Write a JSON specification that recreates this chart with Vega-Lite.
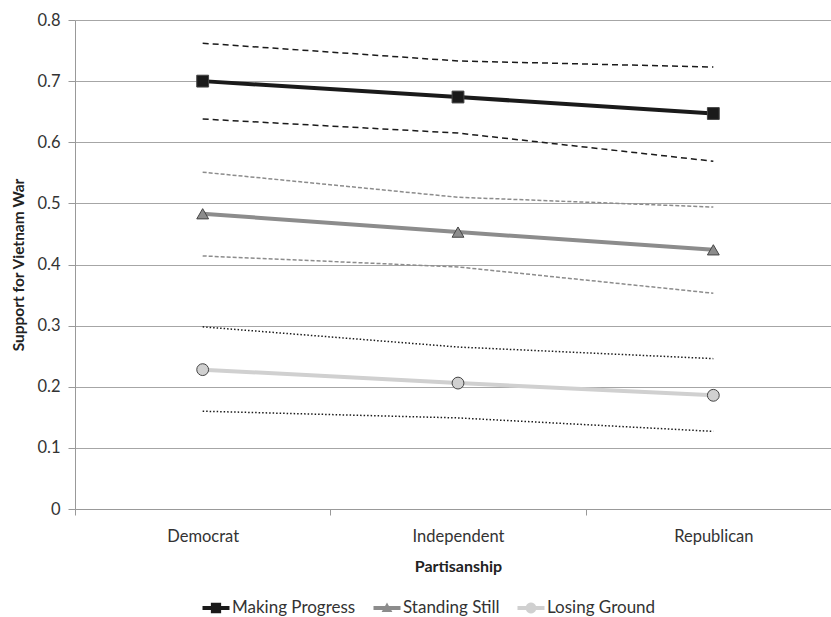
{
  "$schema": "https://vega.github.io/schema/vega-lite/v6.json",
  "autosize": {"type": "none"},
  "width": 756,
  "height": 489,
  "padding": {"left": 75, "top": 20, "right": 0, "bottom": 108},
  "background": "white",
  "config": {
    "font": "Lato",
    "view": {"stroke": null},
    "legend": {"symbolOpacity": 1}
  },
  "datasets": {
    "main": [
      {"party": "Democrat", "series": "Making Progress", "est": 0.700},
      {"party": "Independent", "series": "Making Progress", "est": 0.674},
      {"party": "Republican", "series": "Making Progress", "est": 0.647},
      {"party": "Democrat", "series": "Standing Still", "est": 0.483},
      {"party": "Independent", "series": "Standing Still", "est": 0.453},
      {"party": "Republican", "series": "Standing Still", "est": 0.424},
      {"party": "Democrat", "series": "Losing Ground", "est": 0.228},
      {"party": "Independent", "series": "Losing Ground", "est": 0.206},
      {"party": "Republican", "series": "Losing Ground", "est": 0.186}
    ],
    "ci": [
      {"party": "Democrat", "series": "Making Progress", "bound": "hi", "value": 0.762},
      {"party": "Independent", "series": "Making Progress", "bound": "hi", "value": 0.733},
      {"party": "Republican", "series": "Making Progress", "bound": "hi", "value": 0.723},
      {"party": "Democrat", "series": "Making Progress", "bound": "lo", "value": 0.638},
      {"party": "Independent", "series": "Making Progress", "bound": "lo", "value": 0.615},
      {"party": "Republican", "series": "Making Progress", "bound": "lo", "value": 0.569},
      {"party": "Democrat", "series": "Standing Still", "bound": "hi", "value": 0.551},
      {"party": "Independent", "series": "Standing Still", "bound": "hi", "value": 0.510},
      {"party": "Republican", "series": "Standing Still", "bound": "hi", "value": 0.494},
      {"party": "Democrat", "series": "Standing Still", "bound": "lo", "value": 0.414},
      {"party": "Independent", "series": "Standing Still", "bound": "lo", "value": 0.396},
      {"party": "Republican", "series": "Standing Still", "bound": "lo", "value": 0.353},
      {"party": "Democrat", "series": "Losing Ground", "bound": "hi", "value": 0.298},
      {"party": "Independent", "series": "Losing Ground", "bound": "hi", "value": 0.265},
      {"party": "Republican", "series": "Losing Ground", "bound": "hi", "value": 0.246},
      {"party": "Democrat", "series": "Losing Ground", "bound": "lo", "value": 0.160},
      {"party": "Independent", "series": "Losing Ground", "bound": "lo", "value": 0.149},
      {"party": "Republican", "series": "Losing Ground", "bound": "lo", "value": 0.127}
    ]
  },
  "encoding": {
    "x": {
      "field": "party",
      "type": "nominal",
      "sort": ["Democrat", "Independent", "Republican"],
      "scale": {"type": "band", "range": [0, 766], "paddingInner": 0, "paddingOuter": 0},
      "axis": {
        "title": "Partisanship",
        "labelAngle": 0,
        "tickBand": "extent",
        "tickSize": 6,
        "tickColor": "#999999",
        "domainColor": "#999999",
        "labelFontSize": 16.5,
        "labelColor": "#333333",
        "labelPadding": 13,
        "titleFontSize": 16,
        "titleFontWeight": "bold",
        "titleColor": "#222222",
        "titlePadding": 14,
        "grid": false
      }
    }
  },
  "layer": [
    {
      "data": {"name": "ci"},
      "mark": {"type": "line", "strokeWidth": 1.5},
      "encoding": {
        "y": {
          "field": "value",
          "type": "quantitative",
          "scale": {"domain": [0, 0.8]},
          "axis": {
            "title": "Support for Vietnam War",
            "values": [0, 0.1, 0.2, 0.3, 0.4, 0.5, 0.6, 0.7, 0.8],
            "format": ".1~f",
            "tickSize": 7,
            "tickColor": "#999999",
            "domainColor": "#999999",
            "gridColor": "#a6a6a6",
            "gridWidth": 1,
            "labelFontSize": 16.5,
            "labelColor": "#333333",
            "labelPadding": 8,
            "titleFontSize": 15.5,
            "titleFontWeight": "bold",
            "titleColor": "#222222",
            "titlePadding": 10
          }
        },
        "stroke": {
          "field": "series",
          "type": "nominal",
          "scale": {"domain": ["Making Progress", "Standing Still", "Losing Ground"], "range": ["#1a1a1a", "#8c8c8c", "#1a1a1a"]},
          "legend": null
        },
        "strokeDash": {
          "field": "series",
          "type": "nominal",
          "scale": {"domain": ["Making Progress", "Standing Still", "Losing Ground"], "range": [[6, 4], [4, 2], [1.5, 2]]},
          "legend": null
        },
        "detail": {"field": "bound"}
      }
    },
    {
      "data": {"name": "main"},
      "mark": {"type": "line", "strokeWidth": 4},
      "encoding": {
        "y": {"field": "est", "type": "quantitative"},
        "color": {
          "field": "series",
          "type": "nominal",
          "scale": {"domain": ["Making Progress", "Standing Still", "Losing Ground"], "range": ["#1a1a1a", "#8c8c8c", "#d0d0d0"]},
          "legend": null
        }
      }
    },
    {
      "data": {"name": "main"},
      "mark": {"type": "point", "filled": true, "opacity": 1, "stroke": "#444444", "strokeWidth": 1, "size": 140},
      "encoding": {
        "y": {"field": "est", "type": "quantitative"},
        "color": {
          "field": "series",
          "type": "nominal",
          "legend": null
        },
        "shape": {
          "field": "series",
          "type": "nominal",
          "scale": {"domain": ["Making Progress", "Standing Still", "Losing Ground"], "range": ["square", "triangle-up", "circle"]},
          "legend": null
        }
      }
    },
    {
      "data": {"name": "main"},
      "mark": {"type": "point", "filled": true, "opacity": 0, "size": 676, "stroke": "#444444", "strokeWidth": 1},
      "encoding": {
        "y": {"field": "est", "type": "quantitative"},
        "shape": {
          "field": "series",
          "type": "nominal",
          "scale": {
            "domain": ["Making Progress", "Standing Still", "Losing Ground"],
            "range": [
              "M-1,-0.15H-0.38V-0.38H0.38V-0.15H1V0.15H0.38V0.38H-0.38V0.15H-1Z",
              "M-1,-0.15H-0.143L0,-0.4L0.143,-0.15H1V0.15H0.314L0.4,0.3H-0.4L-0.314,0.15H-1Z",
              "M-1,-0.15H-0.371A0.4,0.4 0 0 1 0.371,-0.15H1V0.15H0.371A0.4,0.4 0 0 1 -0.371,0.15H-1Z"
            ]
          },
          "legend": {
            "title": null,
            "orient": "none",
            "legendX": 127,
            "legendY": 574,
            "direction": "horizontal",
            "symbolSize": 729,
            "symbolStrokeColor": "#444444",
            "symbolStrokeWidth": 1,
            "symbolOpacity": 1,
            "labelFontSize": 17,
            "labelColor": "#333333",
            "labelOffset": 2,
            "columnPadding": 15,
            "padding": 0
          }
        },
        "fill": {
          "field": "series",
          "type": "nominal",
          "scale": {"domain": ["Making Progress", "Standing Still", "Losing Ground"], "range": ["#1a1a1a", "#8c8c8c", "#d0d0d0"]},
          "legend": {
            "title": null,
            "orient": "none",
            "legendX": 127,
            "legendY": 574,
            "direction": "horizontal",
            "symbolSize": 729,
            "symbolStrokeColor": "#444444",
            "symbolStrokeWidth": 1,
            "symbolOpacity": 1,
            "labelFontSize": 17,
            "labelColor": "#333333",
            "labelOffset": 2,
            "columnPadding": 15,
            "padding": 0
          }
        }
      }
    }
  ],
  "resolve": {"scale": {"shape": "independent", "fill": "independent"}}
}
